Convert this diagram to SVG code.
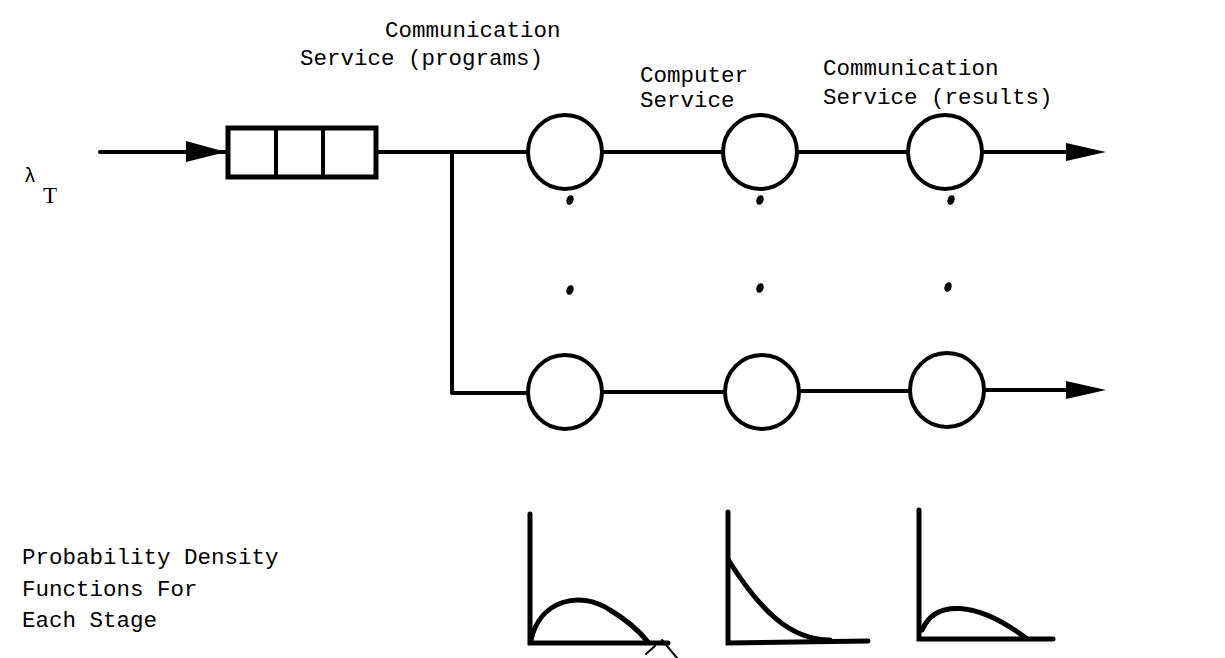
<svg xmlns="http://www.w3.org/2000/svg" width="1225" height="658" viewBox="0 0 1225 658">
<style>
.t{font-family:"Liberation Mono","DejaVu Sans Mono",monospace;font-size:22.5px;fill:#000}
.ln{stroke:#000;stroke-width:4;fill:none;stroke-linecap:round;stroke-linejoin:round}
.nd{stroke:#000;stroke-width:4;fill:#fff}
.cv{stroke:#000;stroke-width:5;fill:none;stroke-linecap:round}
</style>
<rect width="1225" height="658" fill="#fff"/>
<g id="labels">
<text class="t" x="385" y="37">Communication</text>
<text class="t" x="300" y="65">Service (programs)</text>
<text class="t" x="640" y="82">Computer</text>
<text class="t" x="640" y="107">Service</text>
<text class="t" x="823" y="75">Communication</text>
<text class="t" x="823" y="104">Service (results)</text>
<text class="t" x="24" y="182" style="font-size:20px">λ</text>
<text class="t" x="43" y="203" style="font-size:23px;font-family:'Liberation Serif',serif">T</text>
<text class="t" x="22" y="564">Probability Density</text>
<text class="t" x="22" y="596">Functions For</text>
<text class="t" x="22" y="627">Each Stage</text>
</g>
<g id="connectors">
<line class="ln" x1="100" y1="152" x2="226" y2="152"/>
<path d="M186,141 L226,152 L186,162 Z" fill="#000"/>
<line class="ln" x1="377" y1="152" x2="528" y2="152"/>
<polyline class="ln" points="452,152 452,393 528,393"/>
<line class="ln" x1="602" y1="152" x2="723" y2="152"/>
<line class="ln" x1="797" y1="152" x2="908" y2="152"/>
<line class="ln" x1="982" y1="152" x2="1068" y2="152"/>
<path d="M1066,143 L1106,152 L1066,161 Z" fill="#000"/>
<line class="ln" x1="602" y1="392" x2="725" y2="392"/>
<line class="ln" x1="799" y1="391" x2="910" y2="391"/>
<line class="ln" x1="984" y1="390" x2="1068" y2="390"/>
<path d="M1066,381 L1106,390 L1066,399 Z" fill="#000"/>
</g>
<g id="queue">
<rect x="228" y="128" width="148" height="49" class="nd" style="stroke-width:5"/>
<line class="ln" x1="276" y1="128" x2="276" y2="177"/>
<line class="ln" x1="323" y1="128" x2="323" y2="177"/>
</g>
<g id="node-comm1-top"><circle cx="565" cy="152" r="37" class="nd"/></g>
<g id="node-comp-top"><circle cx="760" cy="152" r="37" class="nd"/></g>
<g id="node-comm2-top"><circle cx="945" cy="152" r="37" class="nd"/></g>
<g id="node-comm1-bot"><circle cx="565" cy="392" r="37" class="nd"/></g>
<g id="node-comp-bot"><circle cx="762" cy="392" r="37" class="nd"/></g>
<g id="node-comm2-bot"><circle cx="947" cy="390" r="37" class="nd"/></g>
<g id="dots" fill="#000">
<ellipse cx="570" cy="200" rx="3.5" ry="5" transform="rotate(20 570 200)"/>
<ellipse cx="570" cy="290" rx="3.5" ry="5" transform="rotate(20 570 290)"/>
<ellipse cx="760" cy="200" rx="3.5" ry="5" transform="rotate(20 760 200)"/>
<ellipse cx="760" cy="288" rx="3.5" ry="5" transform="rotate(20 760 288)"/>
<ellipse cx="951" cy="200" rx="3.5" ry="5" transform="rotate(20 951 200)"/>
<ellipse cx="948" cy="287" rx="3.5" ry="5" transform="rotate(20 948 287)"/>
</g>
<g id="pdf1">
<polyline class="cv" points="530,514 530,643 668,643"/>
<path class="cv" d="M531,640 C540,600 580,590 610,610 C630,622 640,632 648,642"/>
<line class="ln" style="stroke-width:2" x1="662" y1="640" x2="677" y2="658"/>
<line class="ln" style="stroke-width:2" x1="646" y1="654" x2="655" y2="646"/>
</g>
<g id="pdf2">
<polyline class="cv" points="728,512 728,643 868,641"/>
<path class="cv" d="M729,561 C760,610 790,640 830,640"/>
</g>
<g id="pdf3">
<polyline class="cv" points="919,510 919,639 1053,639"/>
<path class="cv" d="M922,630 C935,600 975,600 1026,638"/>
</g>
</svg>
